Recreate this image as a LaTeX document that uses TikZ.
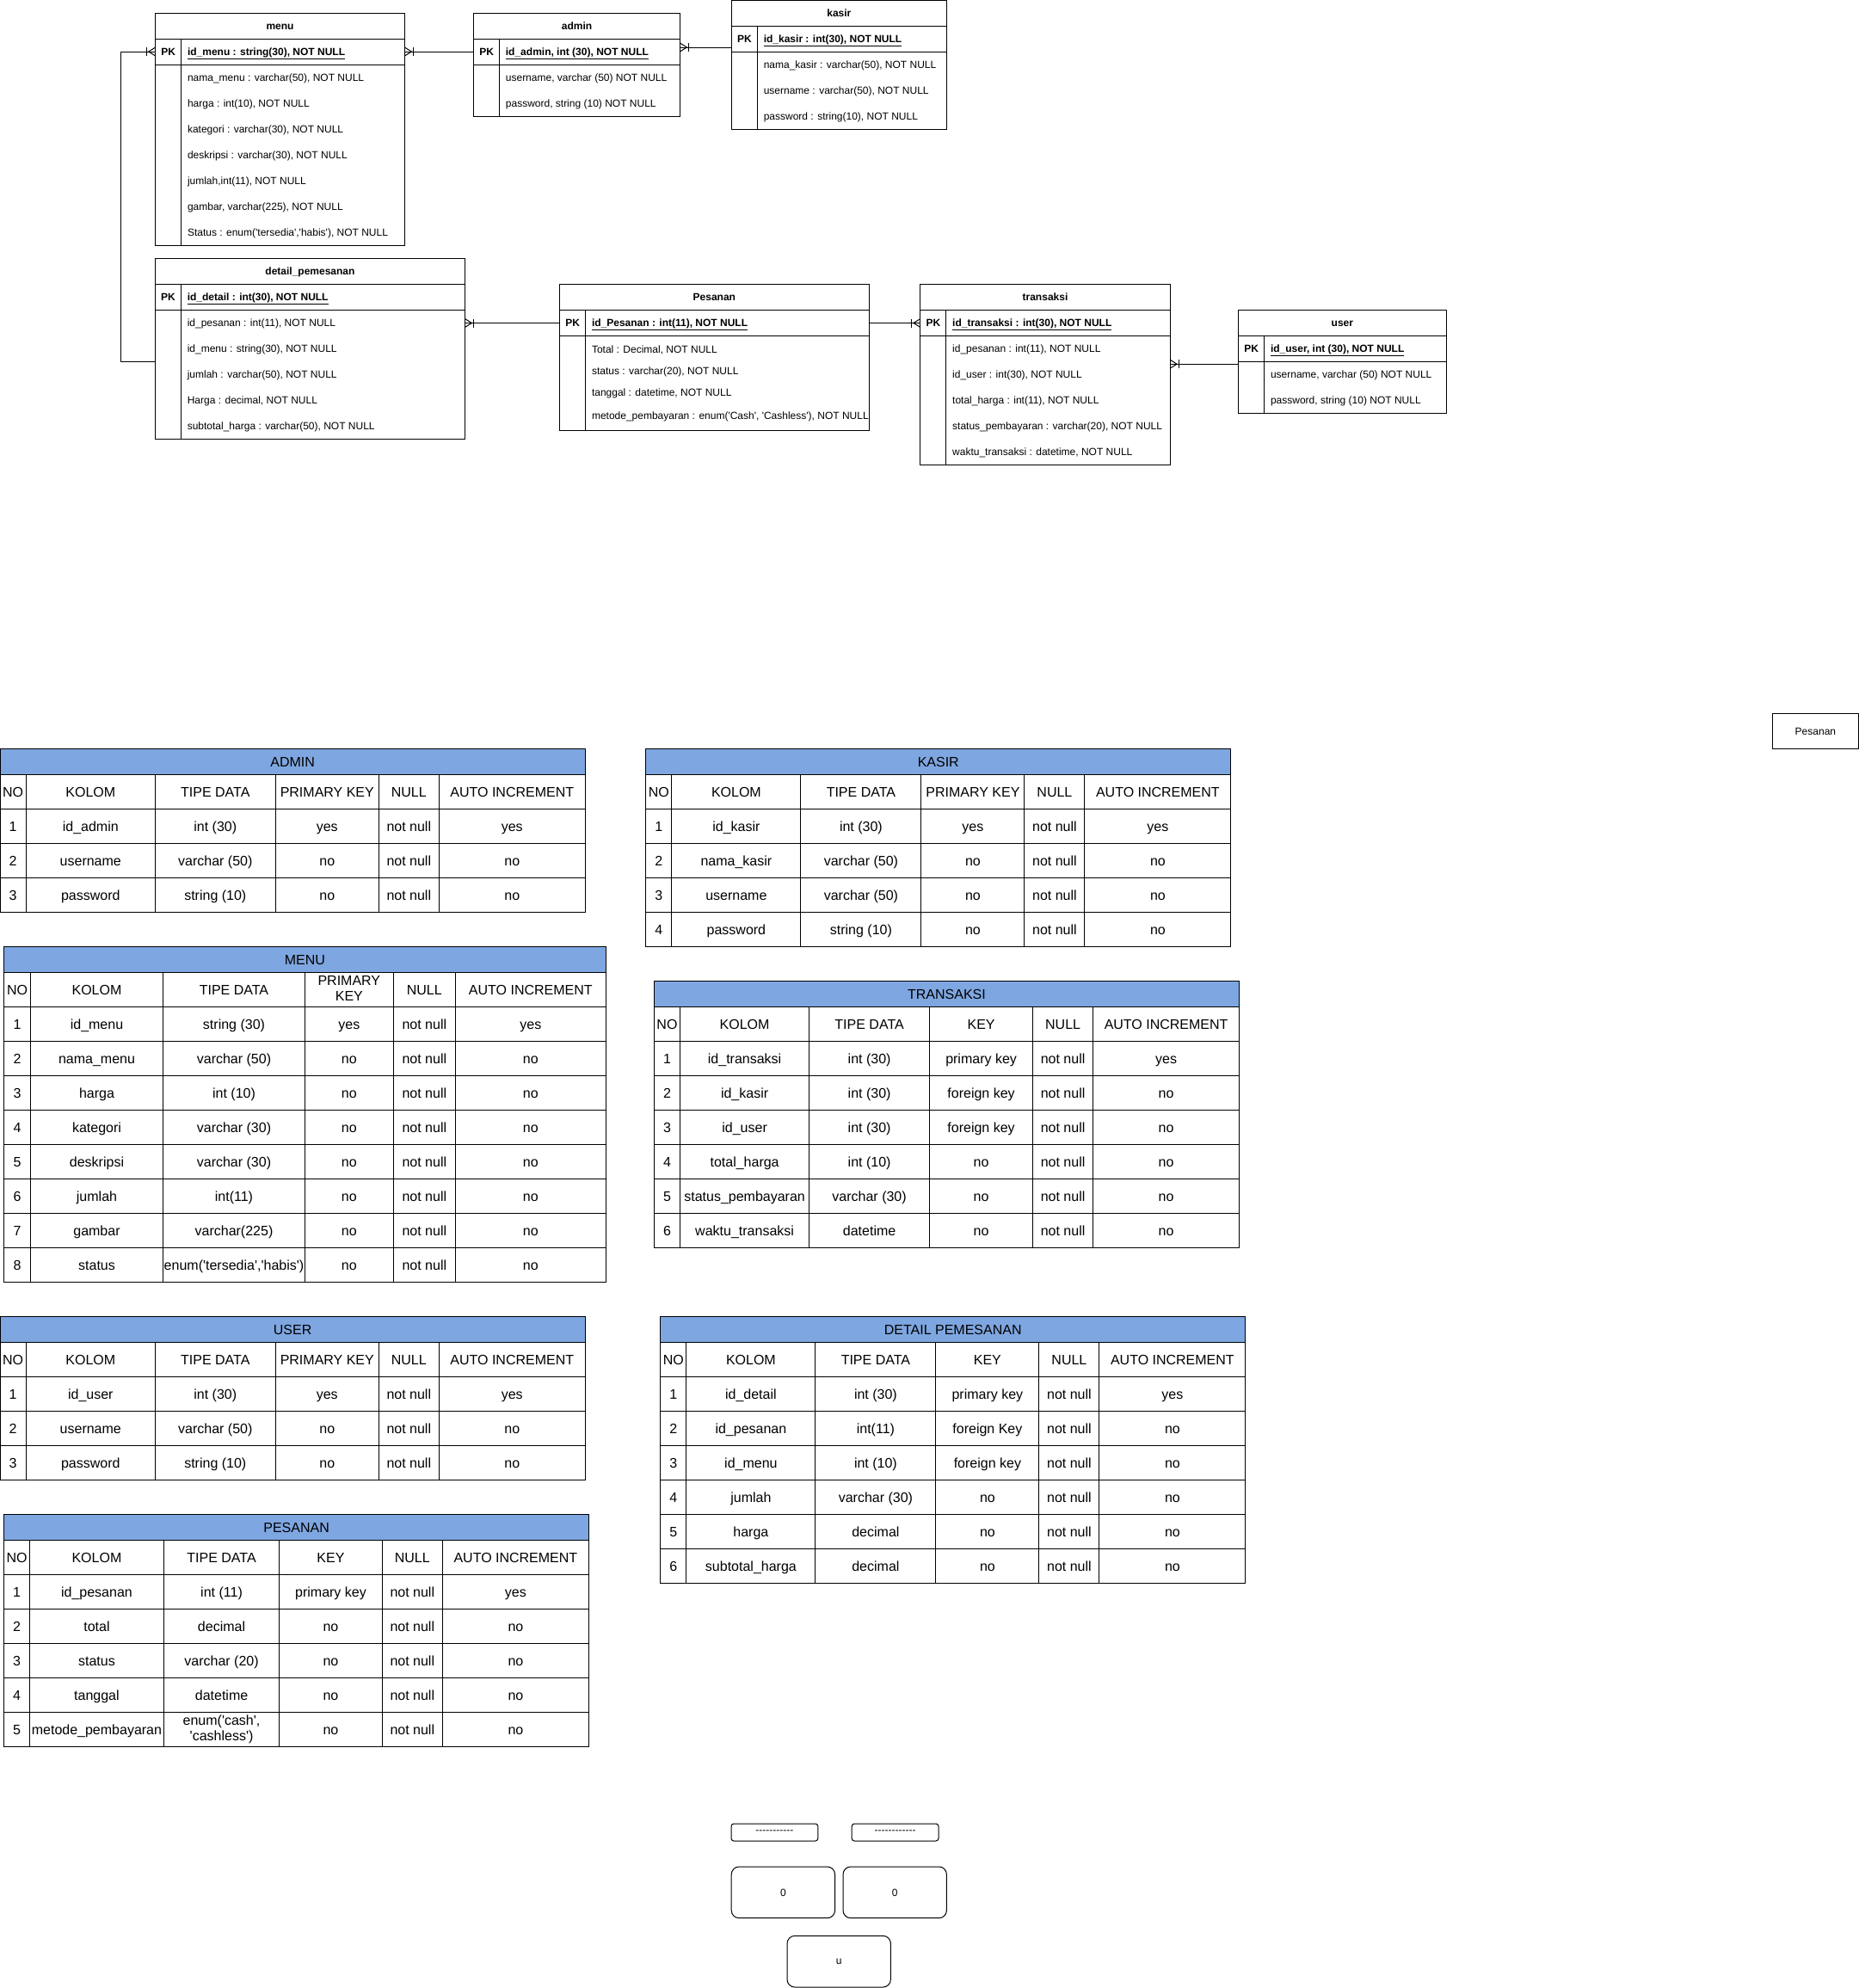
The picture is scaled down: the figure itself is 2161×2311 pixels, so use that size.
\documentclass[tikz,border=0pt]{standalone}
\usepackage{fontspec}
\setmainfont{Liberation Sans}[Ligatures=TeXOff]
\usetikzlibrary{matrix,calc}
\definecolor{tblblue}{HTML}{7EA6E0}
\newcommand\erfont{\fontsize{12}{14.4}\selectfont}
\newcommand\tbfont{\fontsize{16}{18.5}\selectfont}
\newcommand\pkhead{\raisebox{-3pt}{\begin{tabular}{@{}c@{}}PRIMARY\\KEY\end{tabular}}}
\newcommand\enumcash{\raisebox{-3pt}{\begin{tabular}{@{}c@{}}enum('cash',\\'cashless')\end{tabular}}}
\tikzset{
  erbox/.style={draw, line width=1pt, inner sep=0pt, outer sep=0pt},
  ertxt/.style={inner sep=0pt, outer sep=0pt, anchor=west, font=\erfont, text height=10.86pt, text depth=2.54pt},
  erline/.style={line width=1pt},
  tbtitle/.style={draw, fill=tblblue, line width=1pt, inner sep=0pt, outer sep=0pt, minimum height=30.4pt, font=\tbfont, text height=14.5pt, text depth=3.4pt, anchor=north west},
  dbtab/.style={matrix of nodes, inner sep=0pt, outer sep=0pt, column sep=-1pt, row sep=-1pt, anchor=north west,
     nodes={draw, line width=1pt, inner sep=0pt, outer sep=0pt, minimum height=40pt, anchor=center, font=\tbfont, text height=14.5pt, text depth=3.4pt}},
  stdcols/.style={column 1/.style={nodes={minimum width=30.3pt}}, column 2/.style={nodes={minimum width=150pt}}, column 3/.style={nodes={minimum width=140pt}}, column 4/.style={nodes={minimum width=120pt}}, column 5/.style={nodes={minimum width=70pt}}, column 6/.style={nodes={minimum width=170pt}}},
  menucols/.style={column 1/.style={nodes={minimum width=30.8pt}}, column 2/.style={nodes={minimum width=154.2pt}}, column 3/.style={nodes={minimum width=164.8pt}}, column 4/.style={nodes={minimum width=102.9pt}}, column 5/.style={nodes={minimum width=72.1pt}}, column 6/.style={nodes={minimum width=174.9pt}}},
  pescols/.style={column 1/.style={nodes={minimum width=29.8pt}}, column 2/.style={nodes={minimum width=156.1pt}}, column 3/.style={nodes={minimum width=134.1pt}}, column 4/.style={nodes={minimum width=119.8pt}}, column 5/.style={nodes={minimum width=69.8pt}}, column 6/.style={nodes={minimum width=170.4pt}}},
  rbox/.style={draw, line width=1pt, inner sep=0pt, outer sep=0pt, anchor=north west, font=\erfont},
  multi/.style={text height={}, text depth={}}
}
% ER entity: name, x, y, width, title, pk text, body height
\newcommand\erent[7]{%
  \node[erbox, minimum width=#4pt, minimum height=30pt, anchor=north west, font=\erfont\bfseries, text height=10.86pt, text depth=2.54pt] (#1) at (#2,#3) {#5};
  \node[erbox, minimum width=#4pt, minimum height=30pt, anchor=north west] (#1-pk) at (#1.south west) {};
  \node[erbox, minimum width=#4pt, minimum height=#7pt, anchor=north west] (#1-body) at (#1-pk.south west) {};
  \draw[erline] ($(#1-pk.north west)+(30,0)$) -- ($(#1-body.south west)+(30,0)$);
  \node[ertxt, anchor=center, font=\erfont\bfseries] (#1-pkl) at ($(#1-pk.west)+(15,0)$) {PK};
  \node[ertxt, font=\erfont\bfseries] (#1-pkt) at ($(#1-pk.west)+(37.3,0)$) {\underline{#6}};
}
\newcommand\crowfoot[2]{%
  \draw[erline] ($(#1)+(0,-5)$) -- ($(#1)+(#2*8,0)$) -- ($(#1)+(0,5)$);
  \draw[erline] ($(#1)+(#2*10,-5)$) -- ($(#1)+(#2*10,5)$);}
\begin{document}
\begin{tikzpicture}[x=1pt,y=-1pt]
\useasboundingbox[fill=white] (0,0) rectangle (2161,2311);

% ---------------- ER entities ----------------
\erent{menu}{180.7}{15}{289.7}{menu}{id\_menu : string(30), NOT NULL}{210}
\foreach \t [count=\k] in {{nama\_menu : varchar(50), NOT NULL},{harga : int(10), NOT NULL},{kategori : varchar(30), NOT NULL},{deskripsi : varchar(30), NOT NULL},{jumlah,int(11), NOT NULL},{gambar, varchar(225), NOT NULL},{Status : enum('tersedia','habis'), NOT NULL}}
  \node[ertxt] (menu-r\k) at ($(menu-body.north west)+(37.3,30*\k-15)$) {\t};

\erent{admin}{550.6}{15}{239.8}{admin}{id\_admin, int (30), NOT NULL}{60}
\foreach \t [count=\k] in {{username, varchar (50) NOT NULL},{password, string (10) NOT NULL}}
  \node[ertxt] (admin-r\k) at ($(admin-body.north west)+(37.3,30*\k-15)$) {\t};

\erent{kasir}{850.5}{0.5}{249.7}{kasir}{id\_kasir : int(30), NOT NULL}{90}
\foreach \t [count=\k] in {{nama\_kasir : varchar(50), NOT NULL},{username : varchar(50), NOT NULL},{password : string(10), NOT NULL}}
  \node[ertxt] (kasir-r\k) at ($(kasir-body.north west)+(37.3,30*\k-15)$) {\t};

\erent{dp}{180.5}{300}{359.9}{detail\_pemesanan}{id\_detail : int(30), NOT NULL}{150}
\foreach \t [count=\k] in {{id\_pesanan : int(11), NOT NULL},{id\_menu : string(30), NOT NULL},{jumlah : varchar(50), NOT NULL},{Harga : decimal, NOT NULL},{subtotal\_harga : varchar(50), NOT NULL}}
  \node[ertxt] (dp-r\k) at ($(dp-body.north west)+(37.3,30*\k-15)$) {\t};

\erent{ps}{650.7}{330.5}{359.3}{Pesanan}{id\_Pesanan : int(11), NOT NULL}{110}
\foreach \oy/\t [count=\k] in {16.3/{Total : Decimal, NOT NULL},41/{status : varchar(20), NOT NULL},65.7/{tanggal : datetime, NOT NULL},93.3/{metode\_pembayaran : enum('Cash', 'Cashless'), NOT NULL}}
  \node[ertxt] (ps-r\k) at ($(ps-body.north west)+(37.3,\oy)$) {\t};

\erent{tr}{1069.9}{330.5}{290.2}{transaksi}{id\_transaksi : int(30), NOT NULL}{150}
\foreach \t [count=\k] in {{id\_pesanan : int(11), NOT NULL},{id\_user : int(30), NOT NULL},{total\_harga : int(11), NOT NULL},{status\_pembayaran : varchar(20), NOT NULL},{waktu\_transaksi : datetime, NOT NULL}}
  \node[ertxt] (tr-r\k) at ($(tr-body.north west)+(37.3,30*\k-15)$) {\t};

\erent{user}{1439.7}{360.5}{241.3}{user}{id\_user, int (30), NOT NULL}{60}
\foreach \t [count=\k] in {{username, varchar (50) NOT NULL},{password, string (10) NOT NULL}}
  \node[ertxt] (user-r\k) at ($(user-body.north west)+(37.3,30*\k-15)$) {\t};

% ---------------- ER connectors ----------------
\draw[erline] (menu-pk.east) -- (admin-pk.west);
\crowfoot{menu-pk.east}{1}

\coordinate (ak) at ($(admin-pk.east)+(0,-5)$);
\coordinate (ak2) at (ak -| kasir-pk.west);
\draw[erline] (ak) -- (ak2);
\crowfoot{ak}{1}

\coordinate (dpm) at ($(dp-body.north west)+(0,60)$);
\draw[erline] (menu-pk.west) -- ++(-40.7,0) |- (dpm);
\crowfoot{menu-pk.west}{-1}

\coordinate (dpx) at (ps-pk.west -| dp-body.east);
\draw[erline] (ps-pk.west) -- (dpx);
\crowfoot{dpx}{1}

\draw[erline] (ps-pk.east) -- (tr-pk.west);
\crowfoot{tr-pk.west}{-1}

\coordinate (tu) at ($(user-body.north west)+(0,2.7)$);
\coordinate (tu2) at (tu -| tr-body.east);
\draw[erline] (tu2) -- (tu);
\crowfoot{tu2}{1}

% ---------------- Data dictionary tables ----------------
\node[tbtitle, minimum width=680.3pt] (admin-title) at (0,870.3) {ADMIN};
\matrix (admin-tab) [dbtab, stdcols] at ($(admin-title.south west)+(-0.5,-0.5)$) {
NO & KOLOM & TIPE DATA & PRIMARY KEY & NULL & AUTO INCREMENT\\
1 & id\_admin & int (30) & yes & not null & yes\\
2 & username & varchar (50) & no & not null & no\\
3 & password & string (10) & no & not null & no\\
};

\node[tbtitle, minimum width=680.3pt] (kasir-title) at (750.6,870.3) {KASIR};
\matrix (kasir-tab) [dbtab, stdcols] at ($(kasir-title.south west)+(-0.5,-0.5)$) {
NO & KOLOM & TIPE DATA & PRIMARY KEY & NULL & AUTO INCREMENT\\
1 & id\_kasir & int (30) & yes & not null & yes\\
2 & nama\_kasir & varchar (50) & no & not null & no\\
3 & username & varchar (50) & no & not null & no\\
4 & password & string (10) & no & not null & no\\
};

\node[tbtitle, minimum width=699.7pt] (menu-title) at (4.6,1100.3) {MENU};
\matrix (menu-tab) [dbtab, menucols] at ($(menu-title.south west)+(-0.5,-0.5)$) {
NO & KOLOM & TIPE DATA & |[multi]| \pkhead & NULL & AUTO INCREMENT\\
1 & id\_menu & string (30) & yes & not null & yes\\
2 & nama\_menu & varchar (50) & no & not null & no\\
3 & harga & int (10) & no & not null & no\\
4 & kategori & varchar (30) & no & not null & no\\
5 & deskripsi & varchar (30) & no & not null & no\\
6 & jumlah & int(11) & no & not null & no\\
7 & gambar & varchar(225) & no & not null & no\\
8 & status & enum('tersedia','habis') & no & not null & no\\
};

\node[tbtitle, minimum width=680.3pt] (tr-title) at (760.3,1140.3) {TRANSAKSI};
\matrix (tr-tab) [dbtab, stdcols] at ($(tr-title.south west)+(-0.5,-0.5)$) {
NO & KOLOM & TIPE DATA & KEY & NULL & AUTO INCREMENT\\
1 & id\_transaksi & int (30) & primary key & not null & yes\\
2 & id\_kasir & int (30) & foreign key & not null & no\\
3 & id\_user & int (30) & foreign key & not null & no\\
4 & total\_harga & int (10) & no & not null & no\\
5 & status\_pembayaran & varchar (30) & no & not null & no\\
6 & waktu\_transaksi & datetime & no & not null & no\\
};

\node[tbtitle, minimum width=680.3pt] (user-title) at (0,1530.3) {USER};
\matrix (user-tab) [dbtab, stdcols] at ($(user-title.south west)+(-0.5,-0.5)$) {
NO & KOLOM & TIPE DATA & PRIMARY KEY & NULL & AUTO INCREMENT\\
1 & id\_user & int (30) & yes & not null & yes\\
2 & username & varchar (50) & no & not null & no\\
3 & password & string (10) & no & not null & no\\
};

\node[tbtitle, minimum width=680.3pt] (dp-title) at (767.6,1530.3) {DETAIL PEMESANAN};
\matrix (dp-tab) [dbtab, stdcols] at ($(dp-title.south west)+(-0.5,-0.5)$) {
NO & KOLOM & TIPE DATA & KEY & NULL & AUTO INCREMENT\\
1 & id\_detail & int (30) & primary key & not null & yes\\
2 & id\_pesanan & int(11) & foreign Key & not null & no\\
3 & id\_menu & int (10) & foreign key & not null & no\\
4 & jumlah & varchar (30) & no & not null & no\\
5 & harga & decimal & no & not null & no\\
6 & subtotal\_harga & decimal & no & not null & no\\
};

\node[tbtitle, minimum width=680pt] (ps-title) at (4.6,1760.3) {PESANAN};
\matrix (ps-tab) [dbtab, pescols] at ($(ps-title.south west)+(-0.5,-0.5)$) {
NO & KOLOM & TIPE DATA & KEY & NULL & AUTO INCREMENT\\
1 & id\_pesanan & int (11) & primary key & not null & yes\\
2 & total & decimal & no & not null & no\\
3 & status & varchar (20) & no & not null & no\\
4 & tanggal & datetime & no & not null & no\\
5 & metode\_pembayaran & |[multi]| \enumcash & no & not null & no\\
};

% ---------------- loose shapes ----------------
\node[rbox, minimum width=100pt, minimum height=40.4pt] (pesanan-box) at (2060.4,829.9) {Pesanan};
\node[rbox, rounded corners=3pt, minimum width=100.8pt, minimum height=20pt] (dash1) at (850,2120) {-----------};
\node[rbox, rounded corners=3pt, minimum width=100.8pt, minimum height=20pt] (dash2) at (990.2,2120) {------------};
\node[rbox, rounded corners=9pt, minimum width=120.4pt, minimum height=59.7pt] (zero1) at (850.2,2170) {0};
\node[rbox, rounded corners=9pt, minimum width=120.4pt, minimum height=59.7pt] (zero2) at (980,2170) {0};
\node[rbox, rounded corners=9pt, minimum width=120.4pt, minimum height=59.7pt] (ubox) at (915,2250.3) {u};
\end{tikzpicture}
\end{document}
